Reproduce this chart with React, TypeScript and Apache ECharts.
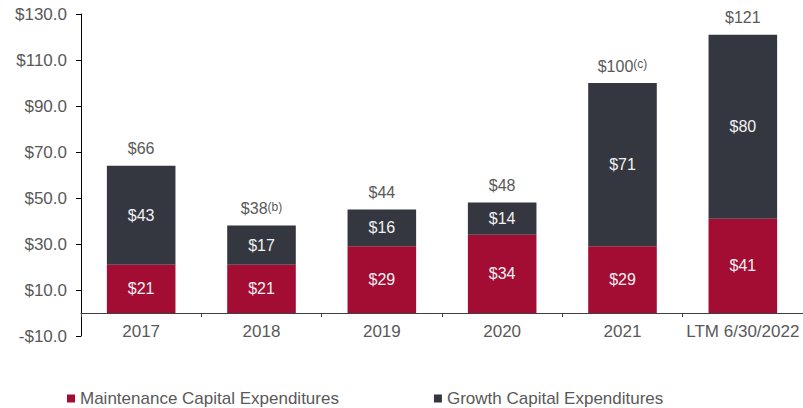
import React, { useEffect, useRef } from "react";
import * as echarts from "echarts";

const categories = ["2017", "2018", "2019", "2020", "2021", "LTM 6/30/2022"];
const maintenance = [21, 21, 29, 34, 29, 41];
const growth = [43, 17, 16, 14, 71, 80];
const totalLabels = ["$66", "$38", "$44", "$48", "$100", "$121"];
const totalNotes = ["", "(b)", "", "", "(c)", ""];
const yTickValues = [-10, 10, 30, 50, 70, 90, 110, 130];

const RED = "#A30D33";
const DARK = "#343740";
const TEXT = "#595959";
const FONT = "Arial, 'Liberation Sans', sans-serif";

export default function App() {
  const ref = useRef<HTMLDivElement>(null);
  useEffect(() => {
    if (!ref.current) return;
    const chart = echarts.init(ref.current, undefined, { renderer: "svg" });
    chart.setOption({
      animation: false,
      textStyle: { fontFamily: FONT },
      grid: { left: 81, right: 0, top: 14, bottom: 72, containLabel: false },
      legend: {
        top: 390,
        left: 67,
        padding: 0,
        data: ["Maintenance Capital Expenditures", "Growth Capital Expenditures"],
        icon: "rect",
        itemWidth: 8,
        itemHeight: 8,
        itemGap: 95,
        textStyle: { color: TEXT, fontSize: 17, fontFamily: FONT },
      },
      xAxis: {
        type: "category",
        data: categories,
        axisLine: { show: true, onZero: true, lineStyle: { color: "#404040", width: 1 } },
        axisTick: { show: true, length: 4, lineStyle: { color: "#404040" } },
        axisLabel: { color: TEXT, fontSize: 17, margin: -13, interval: 0, fontFamily: FONT },
      },
      yAxis: {
        type: "value",
        min: -10,
        max: 130,
        splitLine: { show: false },
        axisLine: { show: true, lineStyle: { color: "#000", width: 1 } },
        axisTick: { show: true, length: 5, customValues: yTickValues, lineStyle: { color: "#000" } },
        axisLabel: {
          color: TEXT,
          fontSize: 17,
          margin: 14,
          fontFamily: FONT,
          customValues: yTickValues,
          formatter: (v: number) => (v < 0 ? "-$" + Math.abs(v).toFixed(1) : "$" + v.toFixed(1)),
        },
      },
      series: [
        {
          name: "Maintenance Capital Expenditures",
          type: "bar",
          stack: "capex",
          barWidth: "57%",
          data: maintenance,
          itemStyle: { color: RED },
          label: {
            show: true,
            position: "inside",
            color: "#F2F2F2",
            fontSize: 16,
            fontFamily: FONT,
            formatter: (p: any) => "$" + p.value,
          },
        },
        {
          name: "Growth Capital Expenditures",
          type: "bar",
          stack: "capex",
          barWidth: "57%",
          data: growth,
          itemStyle: { color: DARK },
          label: {
            show: true,
            position: "inside",
            color: "#F2F2F2",
            fontSize: 16,
            fontFamily: FONT,
            formatter: (p: any) => "$" + p.value,
          },
        },
        {
          name: "Total",
          type: "bar",
          stack: "capex",
          barWidth: "57%",
          data: categories.map(() => 0),
          itemStyle: { color: "transparent" },
          silent: true,
          label: {
            show: true,
            position: "top",
            distance: 9,
            formatter: (p: any) =>
              "{v|" + totalLabels[p.dataIndex] + "}" +
              (totalNotes[p.dataIndex] ? "{s|" + totalNotes[p.dataIndex] + "}" : ""),
            rich: {
              v: { fontSize: 16, color: TEXT, fontFamily: FONT },
              s: { fontSize: 12, color: TEXT, fontFamily: FONT, verticalAlign: "top" },
            },
          },
        },
      ],
    });
    return () => chart.dispose();
  }, []);
  return <div ref={ref} style={{ width: 803, height: 408, position: "absolute", left: 0, top: 0 }} />;
}
